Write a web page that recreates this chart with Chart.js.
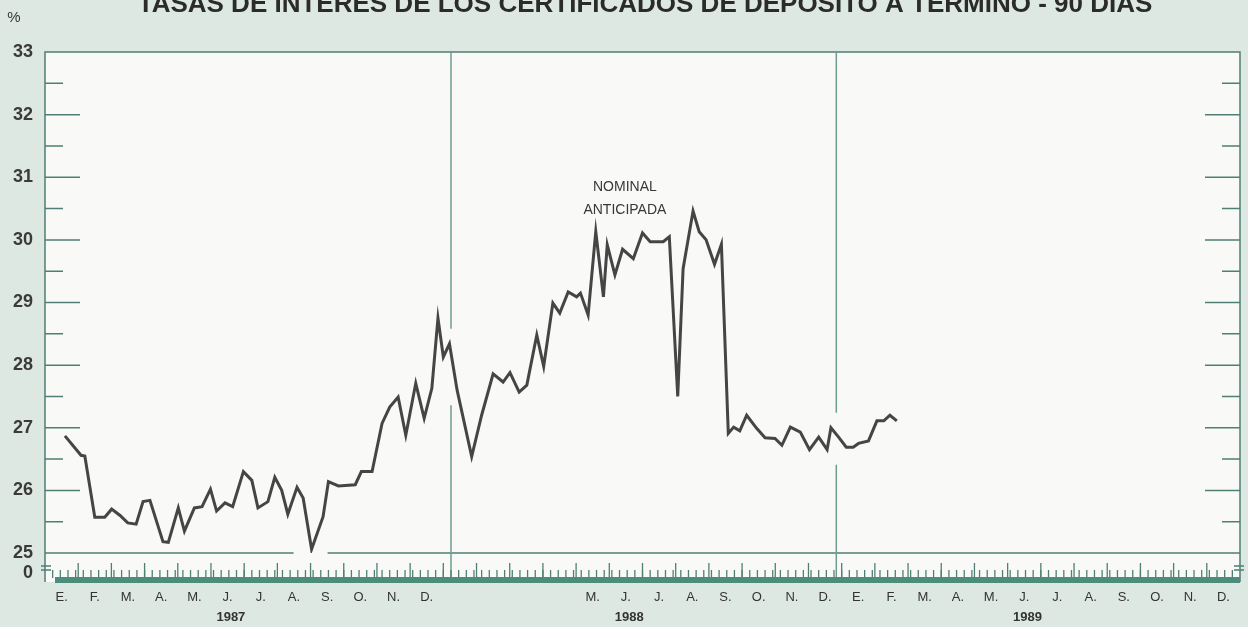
<!DOCTYPE html>
<html>
<head>
<meta charset="utf-8">
<script src="https://cdn.jsdelivr.net/npm/chart.js@4.4.0/dist/chart.umd.min.js"></script>
<style>
  html, body { margin: 0; padding: 0; background: #dde8e3; }
  #wrap { width: 1248px; height: 627px; }
</style>
</head>
<body>
<div id="wrap"><canvas id="grafico" width="1248" height="627"></canvas></div>
<script>
// semana desde el 1 de enero de 1987, y tasa nominal anticipada (%)
const semanas = [2.6, 4.7, 5.2, 6.5, 7.8, 8.7, 9.8, 10.8, 11.9, 12.8,
  13.7, 15.4, 16.1, 17.4, 18.2, 19.5, 20.5, 21.6, 22.4, 23.5,
  24.5, 25.9, 27.0, 27.8, 29.1, 30.0, 30.9, 31.7, 32.9, 33.7,
  34.8, 36.3, 37.0, 38.3, 40.5, 41.3, 42.7, 44.0, 45.0, 46.1,
  47.1, 48.4, 49.5, 50.5, 51.3, 52.0, 52.8, 53.8, 55.7, 57.0,
  58.5, 59.8, 60.7, 61.9, 62.9, 64.2, 65.1, 66.3, 67.2, 68.3,
  69.4, 69.9, 70.9, 71.9, 72.9, 73.4, 74.4, 75.4, 76.8, 78.0,
  79.0, 80.7, 81.5, 82.6, 83.3, 84.6, 85.4, 86.3, 87.4, 88.3,
  89.2, 89.9, 90.7, 91.6, 92.9, 94.0, 95.3, 96.2, 97.3, 98.6,
  99.8, 101.0, 102.1, 102.6, 103.6, 104.6, 105.5, 106.2, 107.5, 108.6,
  109.5, 110.3, 111.2];
const tasas = [26.87, 26.56, 26.55, 25.57, 25.57, 25.70, 25.60, 25.48, 25.46, 25.82,
  25.84, 25.18, 25.17, 25.72, 25.35, 25.72, 25.74, 26.02, 25.67, 25.80,
  25.74, 26.30, 26.16, 25.72, 25.82, 26.21, 26.00, 25.62, 26.05, 25.88,
  25.06, 25.58, 26.14, 26.07, 26.09, 26.30, 26.30, 27.07, 27.33, 27.49,
  26.88, 27.71, 27.15, 27.63, 28.75, 28.13, 28.34, 27.60, 26.54, 27.20,
  27.86, 27.73, 27.88, 27.57, 27.68, 28.48, 27.98, 28.99, 28.83, 29.17,
  29.09, 29.15, 28.80, 30.13, 29.09, 29.92, 29.44, 29.85, 29.70, 30.11,
  29.97, 29.97, 30.05, 27.50, 29.54, 30.46, 30.13, 30.00, 29.61, 29.93,
  26.91, 27.01, 26.95, 27.20, 26.99, 26.84, 26.83, 26.72, 27.01, 26.93,
  26.65, 26.85, 26.65, 27.00, 26.85, 26.69, 26.69, 26.75, 26.79, 27.11,
  27.11, 27.20, 27.11];

// etiquetas de meses (enero-abril de 1988 sin rotular en el original)
const meses = ['E.', 'F.', 'M.', 'A.', 'M.', 'J.', 'J.', 'A.', 'S.', 'O.', 'N.', 'D.',
  '', '', '', '', 'M.', 'J.', 'J.', 'A.', 'S.', 'O.', 'N.', 'D.',
  'E.', 'F.', 'M.', 'A.', 'M.', 'J.', 'J.', 'A.', 'S.', 'O.', 'N.', 'D.'];
const anios = ['1987', '1988', '1989'];
const cambioAnio = [53, 103.3];   // semanas donde van las líneas verticales

const SEM_MES = 52 / 12;
const TEAL = '#4f7f74';
const FUENTE = '"Liberation Sans", Arial, sans-serif';

const decoracion = {
  id: 'decoracion',
  beforeDraw(chart) {
    const { ctx, chartArea: a } = chart;
    ctx.save();
    ctx.fillStyle = '#dde8e3';
    ctx.fillRect(0, 0, chart.width, chart.height);
    ctx.fillStyle = '#f9faf8';
    ctx.fillRect(a.left, a.top, a.right - a.left, a.bottom - a.top + 29);
    ctx.restore();
  },
  beforeDatasetsDraw(chart) {
    const { ctx, chartArea: a, scales } = chart;
    const x = scales.x, y = scales.y;
    const base = a.bottom + 25;
    ctx.save();
    ctx.strokeStyle = TEAL;
    ctx.lineWidth = 1.5;

    // marco
    ctx.beginPath();
    ctx.moveTo(a.left, base + 4);
    ctx.lineTo(a.left, a.top);
    ctx.lineTo(a.right, a.top);
    ctx.lineTo(a.right, base + 4);
    ctx.stroke();

    // línea de 25 interrumpida donde la serie casi la toca
    const cortes = semanas.filter((s, i) => tasas[i] < 25.1).map(s => x.getPixelForValue(s));
    let desde = a.left;
    ctx.beginPath();
    cortes.forEach(px => {
      ctx.moveTo(desde, a.bottom); ctx.lineTo(px - 18, a.bottom);
      desde = px + 16;
    });
    ctx.moveTo(desde, a.bottom); ctx.lineTo(a.right, a.bottom);
    ctx.stroke();

    // marcas del eje y hacia adentro, a ambos lados
    for (let v = 25.5; v < 33; v += 0.5) {
      const py = y.getPixelForValue(v);
      const largo = Number.isInteger(v) ? 35 : 18;
      ctx.beginPath();
      ctx.moveTo(a.left, py); ctx.lineTo(a.left + largo, py);
      ctx.moveTo(a.right, py); ctx.lineTo(a.right - largo, py);
      ctx.stroke();
    }

    // líneas de cambio de año, cortadas donde las cruza la serie
    ctx.strokeStyle = '#6f9c92';
    cambioAnio.forEach(s => {
      const px = x.getPixelForValue(s);
      const cerca = semanas.map((w, i) => [w, tasas[i]]).filter(p => Math.abs(p[0] - s) < 1.5);
      const ys = cerca.map(p => y.getPixelForValue(p[1]));
      const g1 = Math.min(...ys) - 15, g2 = Math.max(...ys) + 15;
      ctx.beginPath();
      ctx.moveTo(px, a.top); ctx.lineTo(px, g1);
      ctx.moveTo(px, g2); ctx.lineTo(px, base + 4);
      ctx.stroke();
    });

    // regla de semanas y meses bajo el corte del eje
    ctx.strokeStyle = TEAL;
    ctx.lineWidth = 1.3;
    for (let s = 1; s < 156; s++) {
      const px = x.getPixelForValue(s);
      ctx.beginPath(); ctx.moveTo(px, base); ctx.lineTo(px, base - 8); ctx.stroke();
    }
    for (let m = 1; m < 36; m++) {
      const px = x.getPixelForValue(m * SEM_MES);
      ctx.beginPath(); ctx.moveTo(px, base); ctx.lineTo(px, base - 15); ctx.stroke();
    }
    ctx.fillStyle = '#4b8c7b';
    ctx.fillRect(a.left + 10, base - 1, a.right - a.left - 10, 6);
    // símbolo de corte
    ctx.beginPath();
    ctx.moveTo(a.left - 4, base - 12); ctx.lineTo(a.left + 6, base - 12);
    ctx.moveTo(a.left - 4, base - 8); ctx.lineTo(a.left + 6, base - 8);
    ctx.moveTo(a.right - 6, base - 12); ctx.lineTo(a.right + 4, base - 12);
    ctx.moveTo(a.right - 6, base - 8); ctx.lineTo(a.right + 4, base - 8);
    ctx.stroke();
    ctx.restore();
  },
  afterDraw(chart) {
    const { ctx, chartArea: a, scales } = chart;
    ctx.save();
    ctx.fillStyle = '#2b2b2b';
    ctx.textAlign = 'center';
    ctx.font = 'bold 26px ' + FUENTE;
    ctx.fillText('TASAS DE INTERES DE LOS CERTIFICADOS DE DEPOSITO A TERMINO - 90 DIAS', 645, 12);
    ctx.font = '15px ' + FUENTE;
    ctx.fillStyle = '#383838';
    ctx.fillText('%', 14, 22);
    ctx.font = 'bold 18px ' + FUENTE;
    ctx.textAlign = 'right';
    ctx.textBaseline = 'middle';
    ctx.fillText('0', 33, a.bottom + 20);
    // rótulo de la serie
    ctx.textAlign = 'center';
    ctx.font = '14px ' + FUENTE;
    const ax = scales.x.getPixelForValue(75.7);
    ctx.fillText('NOMINAL', ax, scales.y.getPixelForValue(30.84));
    ctx.fillText('ANTICIPADA', ax, scales.y.getPixelForValue(30.47));
    ctx.restore();
  }
};

const sinRelleno = s => { s.paddingLeft = 0; s.paddingRight = 0; };

const ctx = document.getElementById('grafico').getContext('2d');
const grafico = new Chart(ctx, {
  type: 'line',
  data: {
    datasets: [{
      label: 'Nominal anticipada',
      data: semanas.map((s, i) => ({ x: s, y: tasas[i] })),
      borderColor: '#454545',
      borderWidth: 3,
      pointRadius: 0,
      tension: 0,
      fill: false
    }]
  },
  options: {
    responsive: false,
    animation: false,
    devicePixelRatio: 1,
    layout: { padding: { top: 52, right: 8, left: 0, bottom: 0 } },
    plugins: {
      legend: { display: false },
      tooltip: { enabled: false },
      title: { display: false }
    },
    scales: {
      x: {
        type: 'linear',
        position: 'bottom',
        weight: 0,
        min: 0,
        max: 156,
        grid: { display: false, drawTicks: false },
        border: { display: false },
        afterBuildTicks: axis => {
          axis.ticks = meses.map((m, i) => ({ value: (i + 0.5) * SEM_MES }));
        },
        afterFit: s => { s.height = 54; sinRelleno(s); },
        ticks: {
          autoSkip: false,
          maxRotation: 0,
          padding: 37,
          color: '#333',
          font: { size: 13, family: FUENTE },
          callback: (v, i) => meses[i]
        }
      },
      x2: {
        type: 'linear',
        position: 'bottom',
        weight: 1,
        min: 0,
        max: 156,
        grid: { display: false, drawTicks: false },
        border: { display: false },
        afterBuildTicks: axis => {
          axis.ticks = anios.map((a, i) => ({ value: (i * 12 + 5.6) * SEM_MES }));
        },
        afterFit: s => { s.height = 20; sinRelleno(s); },
        ticks: {
          autoSkip: false,
          maxRotation: 0,
          padding: 3,
          color: '#333',
          font: { size: 13, weight: 'bold', family: FUENTE },
          callback: (v, i) => anios[i]
        }
      },
      y: {
        min: 25,
        max: 33,
        grid: { display: false, drawTicks: false },
        border: { display: false },
        afterFit: s => { s.width = 45; },
        ticks: {
          stepSize: 1,
          padding: 12,
          color: '#3a3a3a',
          font: { size: 18, weight: 'bold', family: FUENTE }
        }
      }
    }
  },
  plugins: [decoracion]
});
</script>
</body>
</html>
